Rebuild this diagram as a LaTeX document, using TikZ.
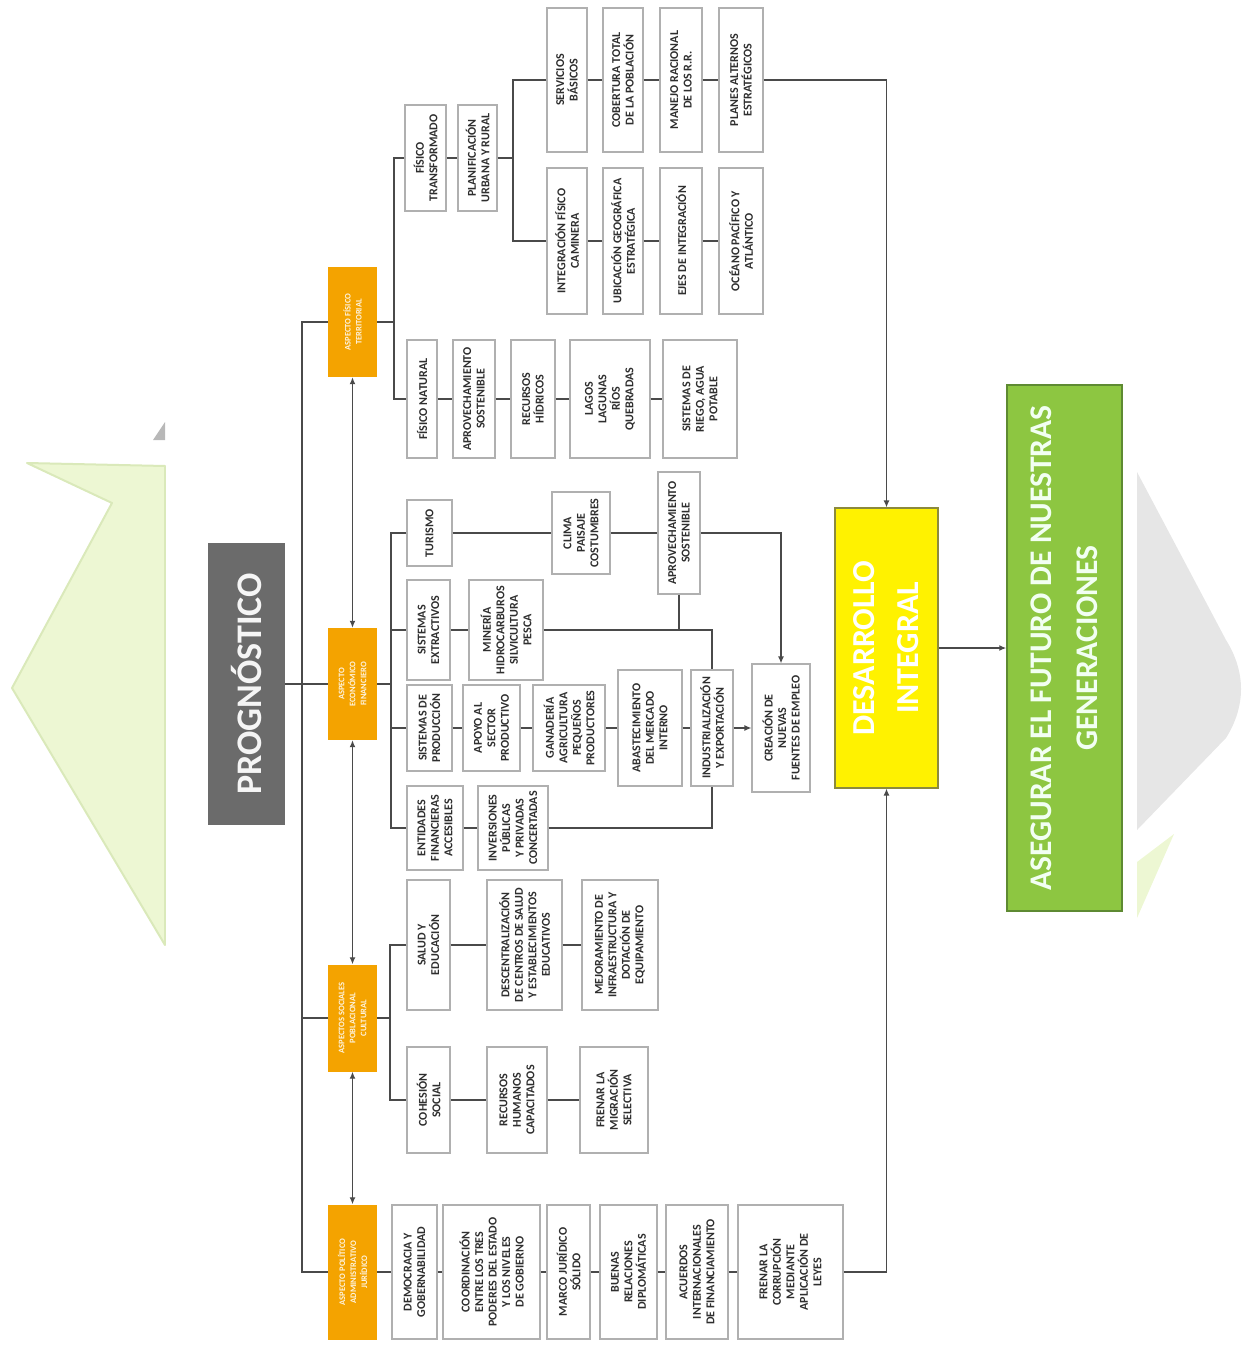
\documentclass[tikz,border=0pt]{standalone}
\usepackage{fontspec}
\setmainfont{Carlito}
\usetikzlibrary{arrows.meta}

\definecolor{palegreen}{HTML}{EDF7D3}
\definecolor{palegreenedge}{HTML}{DAE9BA}
\definecolor{bggrey}{HTML}{E6E6E6}
\definecolor{linegrey}{HTML}{4A4A4A}
\definecolor{boxgrey}{HTML}{B0B0B0}
\definecolor{txtgrey}{HTML}{2E2E2E}
\definecolor{orangebox}{HTML}{F4A300}
\definecolor{proggrey}{HTML}{6B6B6B}
\definecolor{yellowbox}{HTML}{FFF200}
\definecolor{yellowedge}{HTML}{8C8A3C}
\definecolor{greenbox}{HTML}{8DC641}
\definecolor{greenedge}{HTML}{5E8A32}

\tikzset{
  cell/.style={draw=boxgrey, line width=1.1pt, fill=white, rotate=90, align=center,
    inner sep=1pt, text=txtgrey, font=\bfseries\fontsize{12}{13.5}\selectfont},
  aspect/.style={fill=orangebox, rotate=90, align=center, inner sep=1pt,
    minimum width=110, minimum height=49, text=white!88!orangebox,
    font=\bfseries\fontsize{8.5}{11}\selectfont},
  conn/.style={draw=linegrey, line width=1.3pt},
  arr/.style={conn, -{Latex[length=7pt,width=6pt]}},
  dbl/.style={conn, {Latex[length=7pt,width=6pt]}-{Latex[length=7pt,width=6pt]}}
}

% \cellbox{name}{x1}{x2}{y1}{y2}{text}
\newcommand{\cellbox}[6]{%
  \node[cell, minimum width={(#5-#4)*1pt}, minimum height={(#3-#2)*1pt}]
    (#1) at ({(#2+#3)/2},{(#4+#5)/2}) {#6};}

\begin{document}
\begin{tikzpicture}[x=1pt,y=-1pt]
\useasboundingbox (0,0) rectangle (1247,1351);

% background shapes
\fill[palegreen, draw=palegreenedge, line width=2pt, line join=round]
  (27,463) -- (165,466) -- (165,945) -- (12,688) -- (112,503) -- cycle;
\fill[white] (166,380) rectangle (1136,1000);
\fill[black!28] (153,440) -- (165,422) -- (165,440) -- cycle;
\fill[bggrey] (1137,472) -- (1226,640) .. controls (1246,672) and (1246,706) .. (1226,738) -- (1137,830) -- cycle;
\fill[palegreen] (1137,862) -- (1174,834) -- (1137,918) -- cycle;

% main nodes
\node[rotate=90, fill=proggrey, minimum width=282, minimum height=77, inner sep=0pt,
  text=white!92!gray, font=\bfseries\fontsize{36}{40}\selectfont]
  (prog) at (246.5,684) {PROGNÓSTICO};

\node[rotate=90, fill=yellowbox, draw=yellowedge, line width=1.2pt, minimum width=280,
  minimum height=103, inner sep=0pt, align=center, text=white,
  font=\bfseries\fontsize{32}{44}\selectfont]
  (desarrollo) at (886.5,648) {DESARROLLO\\INTEGRAL};

\node[rotate=90, fill=greenbox, draw=greenedge, line width=1.5pt, minimum width=526,
  minimum height=115, inner sep=0pt, align=center, text=white!95!green,
  font=\bfseries\fontsize{31.5}{46}\selectfont]
  (asegurar) at (1064.5,648) {ASEGURAR EL FUTURO DE NUESTRAS\\GENERACIONES};

% aspect boxes
\node[aspect] (o1) at (352.5,322) {ASPECTO FÍSICO\\TERRITORIAL};
\node[aspect, minimum width=112] (o2) at (352.5,684) {ASPECTO\\ECONÓMICO\\FINANCIERO};
\node[aspect, minimum width=107] (o3) at (352.5,1018) {ASPECTOS SOCIALES\\POBLACIONAL\\CULTURAL};
\node[aspect, minimum width=135] (o4) at (352.5,1272) {ASPECTO POLÍTICO\\ADMINISTRATIVO\\JURÍDICO};

% physical-territorial group
\cellbox{ftrans}{405}{446}{105}{211}{FÍSICO\\TRANSFORMADO}
\cellbox{planif}{458}{497}{105}{211}{PLANIFICACIÓN\\URBANA Y RURAL}
\cellbox{servicios}{547}{587}{8}{152}{SERVICIOS\\BÁSICOS}
\cellbox{cobertura}{603}{643}{8}{152}{COBERTURA TOTAL\\DE LA POBLACIÓN}
\cellbox{manejo}{660}{702}{8}{152}{MANEJO RACIONAL\\DE LOS R.R.}
\cellbox{planes}{719}{763}{8}{152}{PLANES ALTERNOS\\ESTRATÉGICOS}
\cellbox{integ}{547}{587}{168}{314}{INTEGRACIÓN FÍSICO\\CAMINERA}
\cellbox{ubic}{603}{643}{168}{314}{UBICACIÓN GEOGRÁFICA\\ESTRATÉGICA}
\cellbox{ejes}{660}{702}{168}{314}{EJES DE INTEGRACIÓN}
\cellbox{oceano}{719}{763}{168}{314}{OCÉANO PACÍFICO Y\\ATLÁNTICO}
\cellbox{fnat}{407}{437}{340}{458}{FÍSICO NATURAL}
\cellbox{aprovA}{453}{495}{340}{458}{APROVECHAMIENTO\\SOSTENIBLE}
\cellbox{hidricos}{511}{555}{340}{458}{RECURSOS\\HÍDRICOS}
\cellbox{lagos}{570}{650}{340}{458}{LAGOS\\LAGUNAS\\RÍOS\\QUEBRADAS}
\cellbox{riego}{663}{737}{340}{458}{SISTEMAS DE\\RIEGO, AGUA\\POTABLE}

% economic-financial group
\cellbox{turismo}{407}{452}{500}{566}{TURISMO}
\cellbox{clima}{552}{610}{492}{574}{CLIMA\\PAISAJE\\COSTUMBRES}
\cellbox{aprovB}{658}{700}{472}{594}{APROVECHAMIENTO\\SOSTENIBLE}
\cellbox{sistext}{407}{450}{580}{680}{SISTEMAS\\EXTRACTIVOS}
\cellbox{mineria}{469}{543}{580}{680}{MINERÍA\\HIDROCARBUROS\\SILVICULTURA\\PESCA}
\cellbox{sistprod}{407}{452}{685}{771}{SISTEMAS DE\\PRODUCCIÓN}
\cellbox{apoyo}{463}{520}{685}{771}{APOYO AL\\SECTOR\\PRODUCTIVO}
\cellbox{ganaderia}{533}{605}{685}{771}{GANADERÍA\\AGRICULTURA\\PEQUEÑOS\\PRODUCTORES}
\cellbox{abast}{618}{682}{670}{786}{ABASTECIMIENTO\\DEL MERCADO\\INTERNO}
\cellbox{indus}{691}{733}{670}{786}{INDUSTRIALIZACIÓN\\Y EXPORTACIÓN}
\cellbox{creacion}{752}{810}{664}{792}{CREACIÓN DE\\NUEVAS\\FUENTES DE EMPLEO}
\cellbox{entid}{407}{463}{786}{870}{ENTIDADES\\FINANCIERAS\\ACCESIBLES}
\cellbox{invers}{478}{548}{786}{870}{INVERSIONES\\PÚBLICAS\\Y PRIVADAS\\CONCERTADAS}

% social group
\cellbox{salud}{407}{450}{880}{1010}{SALUD Y\\EDUCACIÓN}
\cellbox{descent}{487}{562}{880}{1010}{DESCENTRALIZACIÓN\\DE CENTROS DE SALUD\\Y ESTABLECIMIENTOS\\EDUCATIVOS}
\cellbox{mejora}{582}{658}{880}{1010}{MEJORAMIENTO DE\\INFRAESTRUCTURA Y\\DOTACIÓN DE\\EQUIPAMIENTO}
\cellbox{cohesion}{407}{450}{1047}{1153}{COHESIÓN\\SOCIAL}
\cellbox{rrhh}{487}{547}{1047}{1153}{RECURSOS\\HUMANOS\\CAPACITADOS}
\cellbox{migra}{580}{648}{1047}{1153}{FRENAR LA\\MIGRACIÓN\\SELECTIVA}

% political group
\cellbox{democ}{392}{437}{1205}{1339}{DEMOCRACIA Y\\GOBERNABILIDAD}
\cellbox{coord}{443}{540}{1205}{1339}{COORDINACIÓN\\ENTRE LOS TRES\\PODERES DEL ESTADO\\Y LOS NIVELES\\DE GOBIERNO}
\cellbox{marco}{547}{590}{1205}{1339}{MARCO JURÍDICO\\SÓLIDO}
\cellbox{buenas}{600}{657}{1205}{1339}{BUENAS\\RELACIONES\\DIPLOMÁTICAS}
\cellbox{acuerdos}{666}{728}{1205}{1339}{ACUERDOS\\INTERNACIONALES\\DE FINANCIAMIENTO}
\cellbox{corrup}{738}{843}{1205}{1339}{FRENAR LA\\CORRUPCIÓN\\MEDIANTE\\APLICACIÓN DE\\LEYES}

% junction points of the spines
\coordinate (lsp) at (302,684);
\coordinate (sp1) at (394,322);
\coordinate (sp2) at (391,684);
\coordinate (sp3) at (390,1018);
\coordinate (sp4) at (513,158);

% main spine
\draw[conn] (prog.south) -- (lsp);
\draw[conn] (o1.north) -| (lsp) |- (o4.north);
\draw[conn] (lsp |- o2.north) -- (o2.north);
\draw[conn] (lsp |- o3.north) -- (o3.north);
\draw[dbl] (o1.west) -- (o2.east);
\draw[dbl] (o2.west) -- (o3.east);
\draw[dbl] (o3.west) -- (o4.east);

% physical-territorial connectors
\draw[conn] (o1.south) -- (sp1);
\draw[conn] (ftrans.north) -| (sp1) |- (fnat.north);
\draw[conn] (ftrans) -- (planif);
\draw[conn] (planif.south) -- (sp4);
\draw[conn] (servicios.north) -| (sp4) |- (integ.north);
\draw[conn] (servicios) -- (cobertura);
\draw[conn] (cobertura) -- (manejo);
\draw[conn] (manejo) -- (planes);
\draw[conn] (integ) -- (ubic);
\draw[conn] (ubic) -- (ejes);
\draw[conn] (ejes) -- (oceano);
\draw[conn] (fnat) -- (aprovA);
\draw[conn] (aprovA) -- (hidricos);
\draw[conn] (hidricos) -- (lagos);
\draw[conn] (lagos) -- (riego);
\draw[arr] (planes.south) -| (desarrollo.east);

% economic-financial connectors
\draw[conn] (o2.south) -- (sp2);
\draw[conn] (turismo.north) -| (sp2) |- (entid.north);
\draw[conn] (sp2 |- sistext.north) -- (sistext.north);
\draw[conn] (sp2 |- sistprod.north) -- (sistprod.north);
\draw[conn] (turismo) -- (clima);
\draw[conn] (clima) -- (aprovB);
\draw[arr] (aprovB.south) -| (creacion.east);
\draw[conn] (sistext) -- (mineria);
\draw[conn] (mineria.south) -| (indus.east);
\draw[conn] (aprovB.west) -- (aprovB.west |- mineria.south);
\draw[conn] (sistprod) -- (apoyo);
\draw[conn] (apoyo) -- (ganaderia);
\draw[conn] (ganaderia) -- (abast);
\draw[conn] (abast) -- (indus);
\draw[arr] (indus) -- (creacion);
\draw[conn] (entid) -- (invers);
\draw[conn] (invers.south) -| (indus.west);

% social connectors
\draw[conn] (o3.south) -- (sp3);
\draw[conn] (salud.north) -| (sp3) |- (cohesion.north);
\draw[conn] (salud) -- (descent);
\draw[conn] (descent) -- (mejora);
\draw[conn] (cohesion) -- (rrhh);
\draw[conn] (rrhh) -- (migra);

% political connectors
\draw[conn] (o4) -- (democ);
\draw[conn] (democ) -- (coord);
\draw[conn] (coord) -- (marco);
\draw[conn] (marco) -- (buenas);
\draw[conn] (buenas) -- (acuerdos);
\draw[conn] (acuerdos) -- (corrup);
\draw[arr] (corrup.south) -| (desarrollo.west);

% outcome
\draw[arr] (desarrollo.south) -- (asegurar.north);
\end{tikzpicture}
\end{document}
